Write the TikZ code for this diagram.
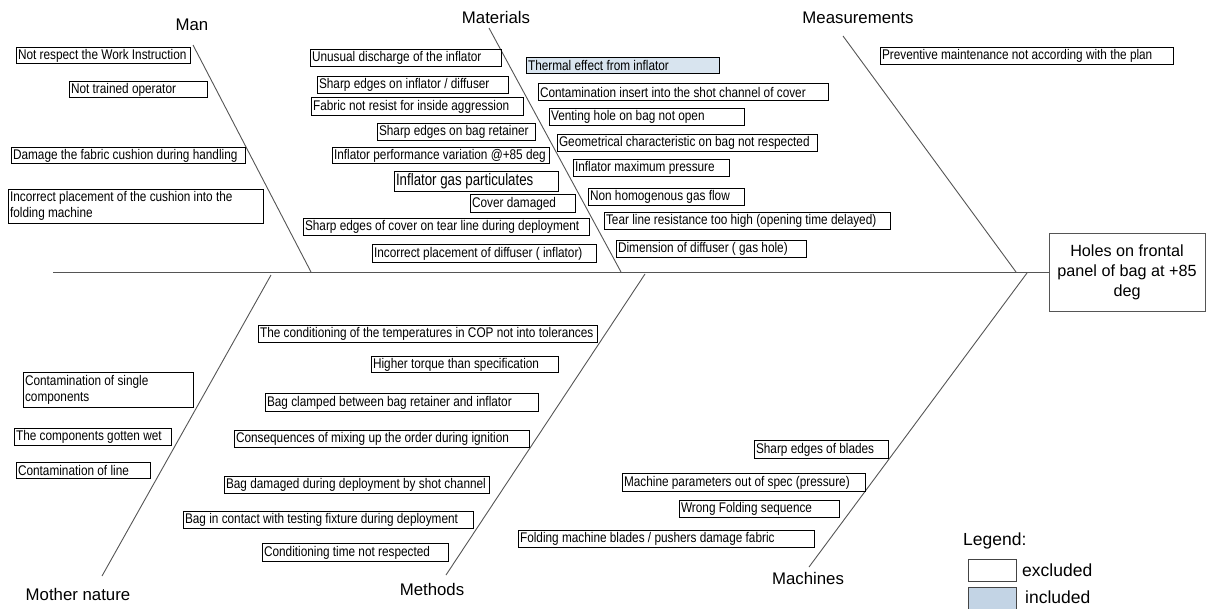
\documentclass[tikz,border=0pt]{standalone}
\usepackage{fontspec}
\setmainfont{Liberation Sans}
\newfontfamily\causefont[FakeStretch=0.843]{Liberation Sans}
\newfontfamily\bigcausefont[FakeStretch=0.80]{Liberation Sans}
\definecolor{inclfill}{RGB}{216,228,239}
\definecolor{leginclfill}{RGB}{195,212,229}
\definecolor{bonegray}{RGB}{85,85,85}
\newcommand\cbox[7][]{%
  \pgfmathsetmacro\cbw{#5-#3}%
  \pgfmathsetmacro\cbh{#6-#4}%
  \pgfmathsetmacro\cbt{#5-#3-3}%
  \node[causebox,minimum width=\cbw pt,minimum height=\cbh pt,#1] (#2) at (#3,#4) {\makebox[\cbt pt][l]{#7}};}
\begin{document}
\begin{tikzpicture}[x=1pt,y=-1pt,
  causebox/.style={draw=black,line width=1.1pt,anchor=north west,inner xsep=1.5pt,inner ysep=0pt,
    font=\causefont\fontsize{14}{16}\selectfont},
  bone/.style={draw=bonegray,line width=0.9pt},
  cat/.style={font=\fontsize{16.8}{19}\selectfont,inner sep=0pt},
  headbox/.style={draw=bonegray,line width=0.9pt,minimum width=156pt,minimum height=78pt,
    align=center,font=\fontsize{16.2}{20}\selectfont},
  legtext/.style={font=\fontsize{17.5}{20}\selectfont,anchor=west,inner sep=0pt},
  legbox/.style={draw=bonegray!80!black,line width=1.2pt,anchor=north west,minimum width=48pt,minimum height=22pt,inner sep=0pt}]
\useasboundingbox (0,0) rectangle (1206,608);

% head and spine
\node[headbox] (head) at (1127,272.5) {Holes on frontal\\panel of bag at +85\\deg};
\coordinate (tail) at (53,272.5);
\draw[bone] (tail) -- (head.west);

% bones
\coordinate (manTop) at (193,45);   \coordinate (manEnd) at (311,272);
\coordinate (matTop) at (489,28);   \coordinate (matEnd) at (621,272);
\coordinate (meaTop) at (843,36);   \coordinate (meaEnd) at (1016,272);
\coordinate (motTop) at (102,576);  \coordinate (motEnd) at (271,275);
\coordinate (metTop) at (446,575);  \coordinate (metEnd) at (645,274);
\coordinate (macTop) at (809,567);  \coordinate (macEnd) at (1027,273);
\draw[bone] (manTop) -- (manEnd);
\draw[bone] (matTop) -- (matEnd);
\draw[bone] (meaTop) -- (meaEnd);
\draw[bone] (motTop) -- (motEnd);
\draw[bone] (metTop) -- (metEnd);
\draw[bone] (macTop) -- (macEnd);

% category titles
\node[cat] (tMan) at (192,25) {Man};
\node[cat] (tMat) at (496,17) {Materials};
\node[cat] (tMea) at (858,18) {Measurements};
\node[cat] (tMot) at (78,594) {Mother nature};
\node[cat] (tMet) at (432,589) {Methods};
\node[cat] (tMac) at (808,578) {Machines};

% Man
\cbox{m1}{16}{47}{190}{63}{Not respect the Work Instruction}
\cbox{m2}{69}{81}{207}{97}{Not trained operator}
\cbox{m3}{11}{147}{245}{163}{Damage the fabric cushion during handling}
\cbox{m4}{8}{189}{263}{223}{\begin{tabular}{@{}l@{}}Incorrect placement of the cushion into the\\folding machine\end{tabular}}

% Materials (left of bone)
\cbox{a1}{310}{49}{501}{66}{Unusual discharge of the inflator}
\cbox{a2}{317}{76}{508}{93}{Sharp edges on inflator / diffuser}
\cbox{a3}{311}{97}{523}{115}{Fabric not resist for inside aggression}
\cbox{a4}{377}{123}{535}{140}{Sharp edges on bag retainer}
\cbox{a5}{332}{147}{549}{163}{Inflator performance variation @+85 deg}
\cbox[font=\bigcausefont\fontsize{16.6}{19}\selectfont]{a6}{394}{171}{558}{191}{Inflator gas particulates}
\cbox{a7}{470}{194}{575}{212}{Cover damaged}
\cbox{a8}{303}{218}{589}{235}{Sharp edges of cover on tear line during deployment}
\cbox{a9}{372}{244}{596}{262}{Incorrect placement of diffuser ( inflator)}

% Materials (right of bone)
\cbox[fill=inclfill]{b1}{526}{57}{719}{73}{Thermal effect from inflator}
\cbox{b2}{538}{83}{828}{100}{Contamination insert into the shot channel of cover}
\cbox{b3}{549}{108}{744}{125}{Venting hole on bag not open}
\cbox{b4}{557}{134}{817}{151}{Geometrical characteristic on bag not respected}
\cbox{b5}{573}{159}{729}{176}{Inflator maximum pressure}
\cbox{b6}{588}{188}{744}{205}{Non homogenous gas flow}
\cbox{b7}{604}{212}{890}{229}{Tear line resistance too high (opening time delayed)}
\cbox{b8}{616}{240}{806}{257}{Dimension of diffuser ( gas hole)}

% Measurements
\cbox{s1}{880}{47}{1173}{64}{Preventive maintenance not according with the plan}

% Mother nature
\cbox{n1}{23}{372}{193}{407}{\begin{tabular}{@{}l@{}}Contamination of single\\components\end{tabular}}
\cbox{n2}{14}{428}{171}{445}{The components gotten wet}
\cbox{n3}{16}{462}{150}{478}{Contamination of line}

% Methods
\cbox{d1}{258}{325}{597}{342}{The conditioning of the temperatures in COP not into tolerances}
\cbox{d2}{371}{356}{558}{372}{Higher torque than specification}
\cbox{d3}{265}{393}{538}{411}{Bag clamped between bag retainer and inflator}
\cbox{d4}{234}{430}{529}{447}{Consequences of mixing up the order during ignition}
\cbox{d5}{224}{476}{489}{493}{Bag damaged during deployment by shot channel}
\cbox{d6}{183}{511}{473}{528}{Bag in contact with testing fixture during deployment}
\cbox{d7}{262}{543}{448}{561}{Conditioning time not respected}

% Machines
\cbox{c1}{754}{440}{888}{458}{Sharp edges of blades}
\cbox{c2}{622}{473}{865}{491}{Machine parameters out of spec (pressure)}
\cbox{c3}{679}{500}{839}{517}{Wrong Folding sequence}
\cbox{c4}{518}{530}{814}{547}{Folding machine blades / pushers damage fabric}

% Legend
\node[legtext] (legend) at (963,541) {Legend:};
\node[legbox,fill=white] (lexc) at (968,559) {};
\node[legtext] (lexct) at (1022,570) {excluded};
\node[legbox,fill=leginclfill] (linc) at (968,587) {};
\node[legtext] (linct) at (1025,597) {included};
\end{tikzpicture}
\end{document}
